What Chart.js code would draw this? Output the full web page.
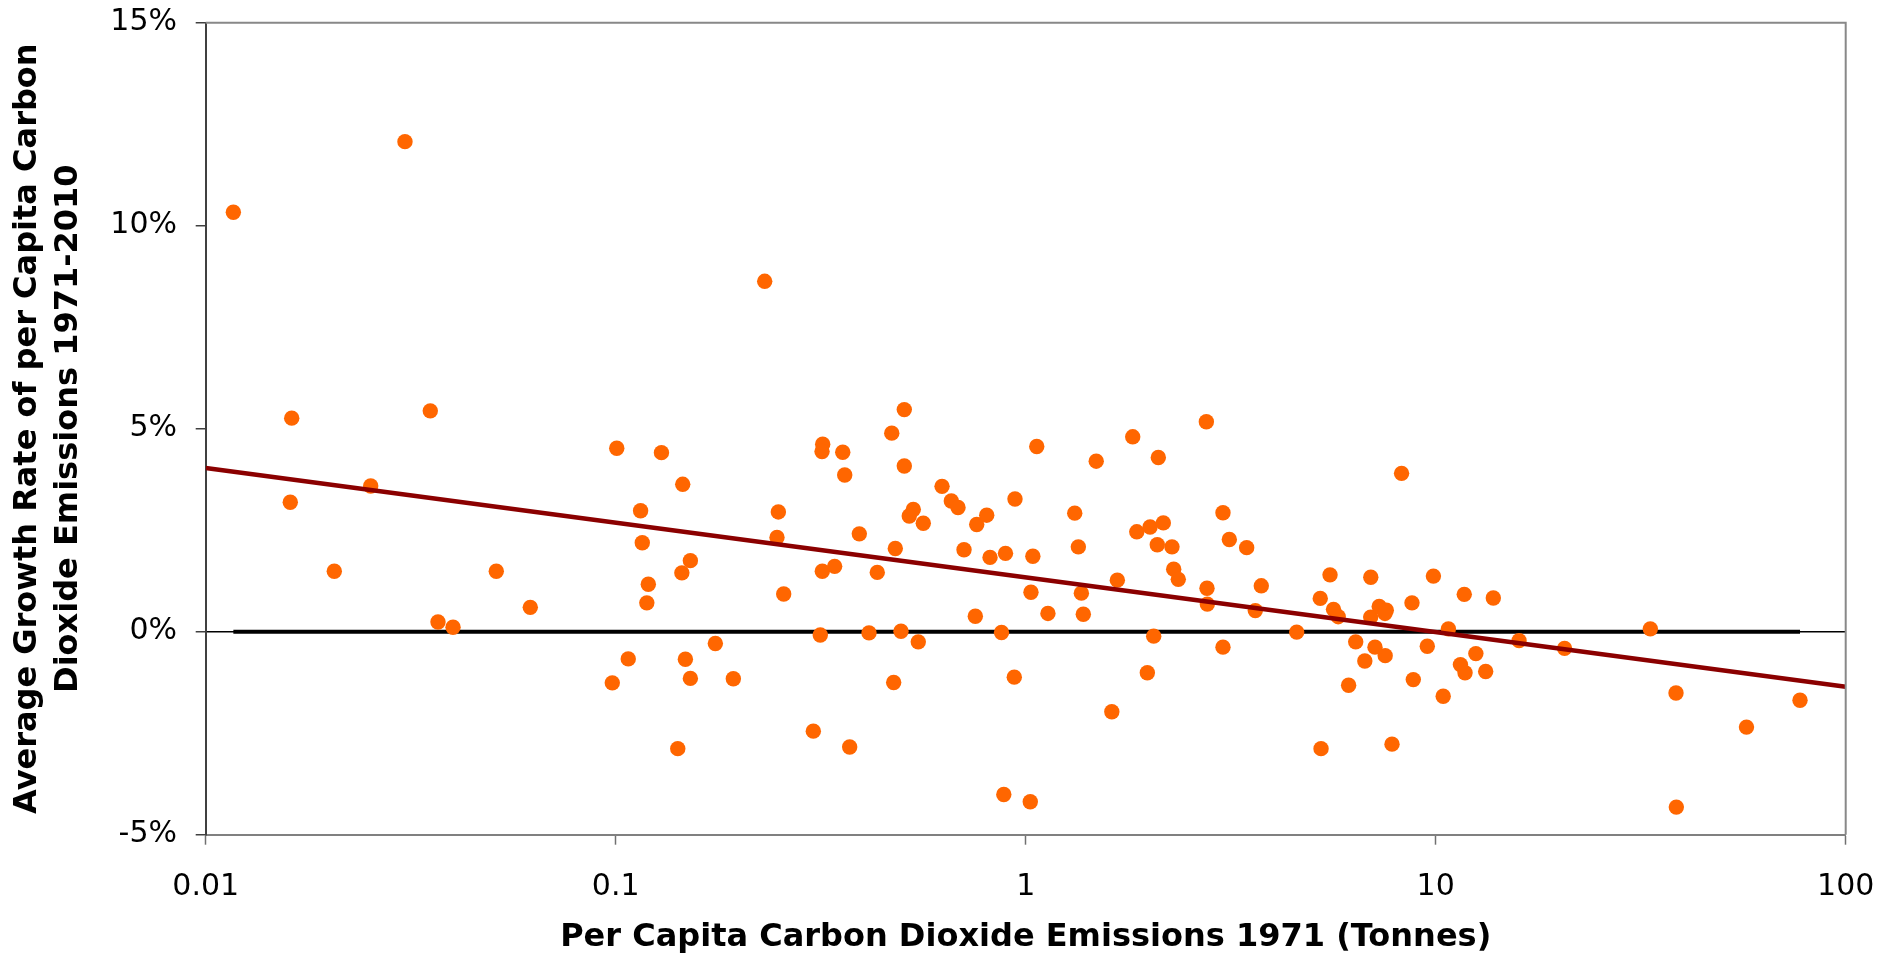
<!DOCTYPE html>
<html>
<head>
<meta charset="utf-8">
<title>Per Capita CO2 Emissions 1971 vs Growth Rate 1971-2010</title>
<script src="https://cdn.jsdelivr.net/npm/chart.js@4/dist/chart.umd.min.js"></script>
<style>
  html, body { margin: 0; padding: 0; background: #fff; }
  #wrap { width: 1889px; height: 963px; position: relative; }
</style>
</head>
<body>
<div id="wrap"><canvas id="chart"></canvas></div>
<script>
// Per capita CO2 emissions in 1971 (tonnes), one entry per country
const co2PerCapita1971 = [
  0.01168,0.03062,0.01621,0.01608,0.02059,0.02526,0.0353,0.03686,0.04011,0.05114,
  0.0619,0.09811,0.1006,0.1073,0.115,0.1161,0.1201,0.1191,0.1293,0.1417,
  0.1457,0.145,0.1479,0.1521,0.1521,0.175,0.1936,0.2309,0.2493,0.2474,
  0.2569,0.3034,0.3155,0.3198,0.3186,0.3191,0.342,0.3579,0.3619,0.3721,
  0.3928,0.4148,0.4345,0.4713,0.4808,0.4764,0.4964,0.5057,0.5057,0.52,
  0.5319,0.547,0.5626,0.6251,0.6585,0.6838,0.7072,0.7536,0.7595,0.8034,
  0.8184,0.873,0.8843,0.8927,0.9379,0.9416,1.026,1.03,1.041,1.064,
  1.133,1.317,1.344,1.367,1.382,1.486,1.622,1.673,1.824,1.866,
  1.98,2.011,2.052,2.106,2.094,2.166,2.274,2.296,2.356,2.758,
  2.768,2.773,3.028,3.028,3.138,3.459,3.631,3.755,4.581,5.229,
  5.252,5.524,5.633,5.784,6.132,6.381,6.716,6.945,6.941,7.111,
  7.281,7.53,7.577,7.521,7.824,8.256,8.753,8.818,9.539,9.872,
  10.43,10.74,11.49,11.74,11.79,12.53,13.24,13.82,15.97,20.62,
  33.38,38.56,38.63,57.28,77.37
];

// Average annual growth rate of per capita CO2 emissions 1971-2010 (%)
const growthRate = [
  10.33,12.07,5.26,3.19,1.49,3.59,5.44,0.24,0.11,1.49,
  0.6,-1.26,4.52,-0.67,2.98,2.19,1.17,0.71,4.41,-2.88,
  3.63,1.45,-0.68,1.75,-1.15,-0.29,-1.16,8.63,2.95,2.32,
  0.93,-2.45,-0.08,4.62,4.44,1.49,1.61,4.42,3.86,-2.84,
  2.41,-0.03,1.46,4.89,2.05,-1.25,0.01,5.47,4.08,2.85,
  3.01,-0.25,2.67,3.58,3.22,3.06,2.02,0.38,2.64,2.87,
  1.83,-0.02,-4.01,1.93,-1.12,3.27,-4.19,0.97,1.86,4.56,
  0.45,2.92,2.09,0.95,0.43,4.2,-1.97,1.27,4.8,2.46,
  -1.01,2.58,-0.11,4.29,2.14,2.68,2.09,1.54,1.29,5.17,
  1.07,0.68,2.93,-0.38,2.27,2.07,0.52,1.13,-0.01,0.82,
  -2.88,1.4,0.55,0.37,-1.32,-0.25,-0.72,1.34,0.36,-0.38,
  0.62,-0.59,0.53,0.45,-2.77,3.9,0.71,-1.18,-0.36,1.37,
  -1.59,0.07,-0.81,0.92,-1.01,-0.54,-0.98,0.83,-0.22,-0.41,
  0.07,-1.51,-4.32,-2.35,-1.69
];

// Axis ticks
const xTickValues = [0.01, 0.1, 1, 10, 100];
const xTickLabels = ['0.01', '0.1', '1', '10', '100'];
const yTickValues = [-5, 0, 5, 10, 15];
const yTickLabels = ['-5%', '0%', '5%', '10%', '15%'];

const xTitle = 'Per Capita Carbon Dioxide Emissions 1971 (Tonnes)';
const yTitle = ['Average Growth Rate of per Capita Carbon', 'Dioxide Emissions 1971-2010'];

const FONT = "'DejaVu Sans', Verdana, sans-serif";

// Scatter points
const points = co2PerCapita1971.map((x, i) => ({ x: x, y: growthRate[i] }));

// Logarithmic least-squares trend: y = a + b * log10(x)
const lx = co2PerCapita1971.map(v => Math.log10(v));
const n = lx.length;
const mx = lx.reduce((s, v) => s + v, 0) / n;
const my = growthRate.reduce((s, v) => s + v, 0) / n;
let sxy = 0, sxx = 0;
for (let i = 0; i < n; i++) {
  sxy += (lx[i] - mx) * (growthRate[i] - my);
  sxx += (lx[i] - mx) * (lx[i] - mx);
}
const slope = sxy / sxx;
const intercept = my - slope * mx;
const xMin = xTickValues[0];
const xMax = xTickValues[xTickValues.length - 1];
const trend = [xMin, xMax].map(x => ({ x: x, y: intercept + slope * Math.log10(x) }));

// Zero reference line spanning the observed emission range
const zeroLine = [
  { x: Math.min(...co2PerCapita1971), y: 0 },
  { x: Math.max(...co2PerCapita1971), y: 0 }
];

// Grey frame on the top and right of the plot area
const framePlugin = {
  id: 'frame',
  afterDraw(chart) {
    const { ctx, chartArea: a } = chart;
    ctx.save();
    ctx.strokeStyle = '#888888';
    ctx.lineWidth = 2;
    ctx.beginPath();
    ctx.moveTo(a.left, a.top);
    ctx.lineTo(a.right, a.top);
    ctx.lineTo(a.right, a.bottom);
    ctx.stroke();
    ctx.restore();
  }
};

new Chart(document.getElementById('chart'), {
  type: 'scatter',
  data: {
    datasets: [
      {
        label: 'Trend',
        type: 'line',
        data: trend,
        borderColor: '#8b0000',
        borderWidth: 4.5,
        pointRadius: 0,
        fill: false,
        order: 0
      },
      {
        label: 'Countries',
        data: points,
        backgroundColor: '#ff6600',
        borderWidth: 0,
        pointRadius: 7.7,
        pointHoverRadius: 7.7,
        order: 1
      },
      {
        label: 'Zero',
        type: 'line',
        data: zeroLine,
        borderColor: '#000000',
        borderWidth: 4,
        pointRadius: 0,
        fill: false,
        order: 2
      }
    ]
  },
  options: {
    responsive: true,
    maintainAspectRatio: false,
    devicePixelRatio: 1,
    animation: false,
    layout: { padding: { left: 0, right: 43.3, top: 22.7, bottom: 0 } },
    plugins: {
      legend: { display: false },
      tooltip: { enabled: false }
    },
    scales: {
      x: {
        type: 'logarithmic',
        min: xMin,
        max: xMax,
        afterBuildTicks: s => { s.ticks = xTickValues.map(v => ({ value: v })); },
        afterFit: s => {
          s.height = 128.3;
          s.paddingLeft = 0;
          s.paddingRight = 0;
        },
        ticks: {
          autoSkip: false,
          maxRotation: 0,
          padding: 25,
          color: '#000',
          font: { family: FONT, size: 30 },
          callback: (v, i) => xTickLabels[i]
        },
        grid: {
          drawOnChartArea: false,
          drawTicks: true,
          tickLength: 10,
          tickColor: '#707070',
          tickWidth: 1.5
        },
        border: { display: true, color: '#808080', width: 2 },
        title: {
          display: true,
          text: xTitle,
          color: '#000',
          font: { family: FONT, size: 32, weight: 'bold', lineHeight: 1.2 },
          padding: { top: 0, bottom: 6 }
        }
      },
      y: {
        type: 'linear',
        min: yTickValues[0],
        max: yTickValues[yTickValues.length - 1],
        afterBuildTicks: s => { s.ticks = yTickValues.map(v => ({ value: v })); },
        afterFit: s => {
          s.width = 205.7;
          s.paddingTop = 0;
          s.paddingBottom = 0;
        },
        ticks: {
          padding: 18.7,
          color: '#000',
          font: { family: FONT, size: 30 },
          callback: (v, i) => yTickLabels[i]
        },
        grid: {
          drawOnChartArea: true,
          drawTicks: true,
          tickLength: 10,
          color: ctx => (ctx.tick && ctx.tick.value === 0 ? '#000000' : 'rgba(0,0,0,0)'),
          lineWidth: 1.5,
          tickColor: '#404040',
          tickWidth: 1.5
        },
        border: { display: true, color: '#404040', width: 2 },
        title: {
          display: true,
          text: yTitle,
          color: '#000',
          font: { family: FONT, size: 32, weight: 'bold', lineHeight: 1.28 },
          padding: { top: 7.3, bottom: 0 }
        }
      }
    }
  },
  plugins: [framePlugin]
});
</script>
</body>
</html>
